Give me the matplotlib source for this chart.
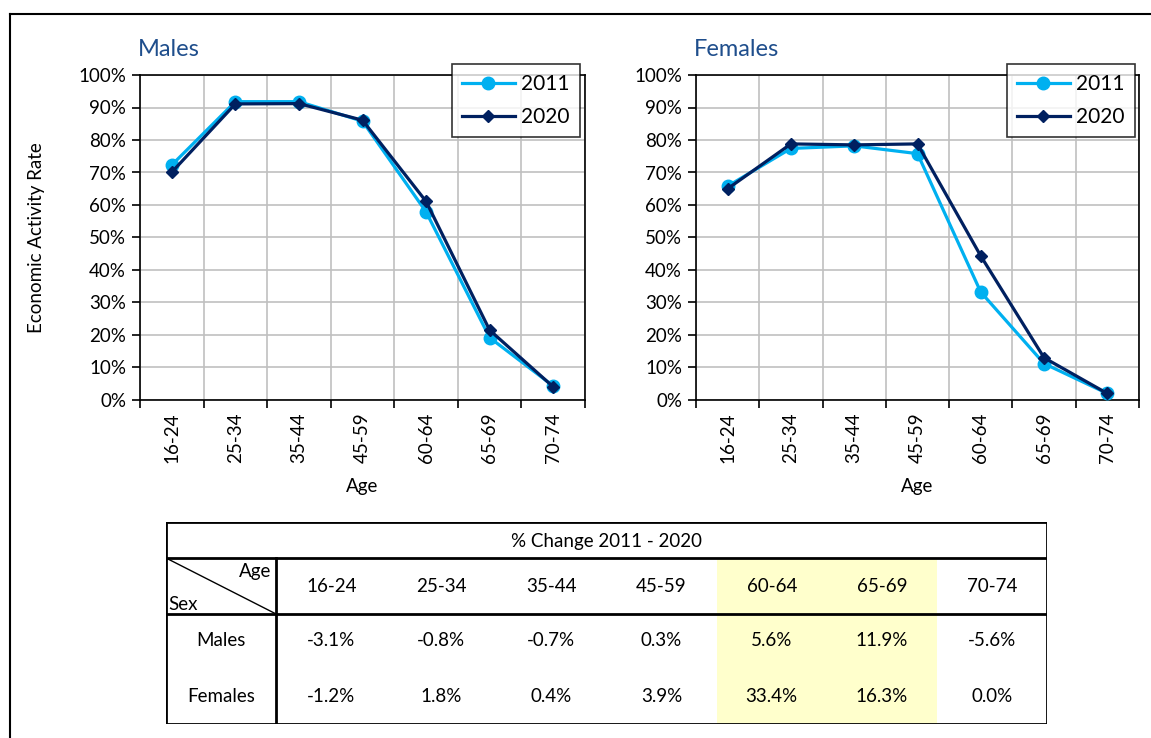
import matplotlib
matplotlib.use("Agg")
import matplotlib.pyplot as plt
from matplotlib.lines import Line2D
from matplotlib.patches import Rectangle
from matplotlib.ticker import PercentFormatter, MultipleLocator

plt.rcParams['font.family'] = ['Lato', 'DejaVu Sans']

ages = ['16-24', '25-34', '35-44', '45-59', '60-64', '65-69', '70-74']
males_2011 = [72.3, 91.8, 91.8, 85.8, 57.9, 19.2, 4.3]
males_2020 = [70.1, 91.1, 91.2, 86.1, 61.1, 21.5, 4.05]
females_2011 = [65.8, 77.4, 78.2, 75.8, 33.2, 11.2, 2.0]
females_2020 = [65.0, 78.8, 78.5, 78.8, 44.3, 13.0, 2.0]
change_males = ['-3.1%', '-0.8%', '-0.7%', '0.3%', '5.6%', '11.9%', '-5.6%']
change_females = ['-1.2%', '1.8%', '0.4%', '3.9%', '33.4%', '16.3%', '0.0%']
highlight = ['60-64', '65-69']

W, H = 1151, 738
c2011 = '#00B0F0'
c2020 = '#002060'
title_col = '#1F4E8C'
fs = 13.5

fig = plt.figure(figsize=(W / 100, H / 100), dpi=100)


def px_axes(x0, y0, x1, y1):
    return fig.add_axes([x0 / W, 1 - y1 / H, (x1 - x0) / W, (y1 - y0) / H])


# outer frame
fig.add_artist(Line2D([10 / W, 10 / W], [0, 1 - 14 / H], color='black', lw=1.5))
fig.add_artist(Line2D([10 / W, 1], [1 - 14 / H, 1 - 14 / H], color='black', lw=1.5))


def draw_panel(ax, title, v2011, v2020, legend_x):
    x = list(range(len(ages)))
    ax.plot(x, v2011, color=c2011, lw=2.3, marker='o', ms=9, label='2011', zorder=3)
    ax.plot(x, v2020, color=c2020, lw=2.3, marker='D', ms=6, label='2020', zorder=4)
    ax.set_xlim(-0.5, len(ages) - 0.5)
    ax.set_ylim(0, 100)
    ax.yaxis.set_major_locator(MultipleLocator(10))
    ax.yaxis.set_major_formatter(PercentFormatter(decimals=0))
    ax.set_xticks(x)
    ax.set_xticklabels(ages, rotation=90, fontsize=fs)
    ax.set_xticks([i - 0.5 for i in range(len(ages) + 1)], minor=True)
    ax.tick_params(axis='x', which='major', length=0, pad=9)
    ax.tick_params(axis='x', which='minor', length=6, width=1.2, direction='out')
    ax.tick_params(axis='y', length=6, width=1.2, direction='out', labelsize=fs, pad=4)
    ax.grid(True, which='minor', axis='x', color='#C0C0C0', lw=1.2)
    ax.grid(True, which='major', axis='y', color='#C0C0C0', lw=1.2)
    ax.set_axisbelow(True)
    for s in ax.spines.values():
        s.set_color('black')
        s.set_linewidth(1.2)
    ax.set_xlabel('Age', fontsize=fs, labelpad=11)
    ax.set_title(title, loc='left', fontsize=17, color=title_col, pad=14, x=-0.005)
    leg = ax.legend(loc='upper left', bbox_to_anchor=(legend_x / W, 1 - 64 / H),
                    bbox_transform=fig.transFigure, fontsize=15, frameon=True,
                    fancybox=False, edgecolor='black', borderpad=0.5,
                    handlelength=2.5, handletextpad=0.3, labelspacing=0.6,
                    borderaxespad=0)
    leg.get_frame().set_linewidth(1.2)


ax_m = px_axes(140, 75, 585, 400)
draw_panel(ax_m, 'Males', males_2011, males_2020, 452)
ax_m.set_ylabel('Economic Activity Rate', fontsize=fs, labelpad=24)

ax_f = px_axes(696, 75, 1139, 400)
draw_panel(ax_f, 'Females', females_2011, females_2020, 1007)

# change table
t = px_axes(166, 522, 1047, 724)
t.set_xlim(0, 8)
t.set_ylim(724, 522)
t.axis('off')
ncol = len(ages) + 1
for i, a in enumerate(ages):
    if a in highlight:
        t.add_patch(Rectangle((i + 1, 558), 1, 166, facecolor='#FFFFCC', edgecolor='none', zorder=0))
t.add_patch(Rectangle((0, 522), ncol, 202, fill=False, edgecolor='black', lw=2, zorder=3))
t.plot([0, ncol], [558, 558], color='black', lw=2, zorder=3)
t.plot([0, ncol], [614, 614], color='black', lw=2, zorder=3)
t.plot([1, 1], [558, 724], color='black', lw=2, zorder=3)
t.plot([0, 1], [558, 614], color='black', lw=1, zorder=3)
t.text(ncol / 2, 541, '% Change 2011 - 2020', ha='center', va='center', fontsize=fs)
t.text(0.96, 572, 'Age', ha='right', va='center', fontsize=fs)
t.text(0.02, 604, 'Sex', ha='left', va='center', fontsize=fs)
for i, a in enumerate(ages):
    t.text(i + 1.5, 586, a, ha='center', va='center', fontsize=fs)
    t.text(i + 1.5, 641, change_males[i], ha='center', va='center', fontsize=fs)
    t.text(i + 1.5, 697, change_females[i], ha='center', va='center', fontsize=fs)
t.text(0.5, 641, 'Males', ha='center', va='center', fontsize=fs)
t.text(0.5, 697, 'Females', ha='center', va='center', fontsize=fs)

fig.savefig('out.png', dpi=100)
